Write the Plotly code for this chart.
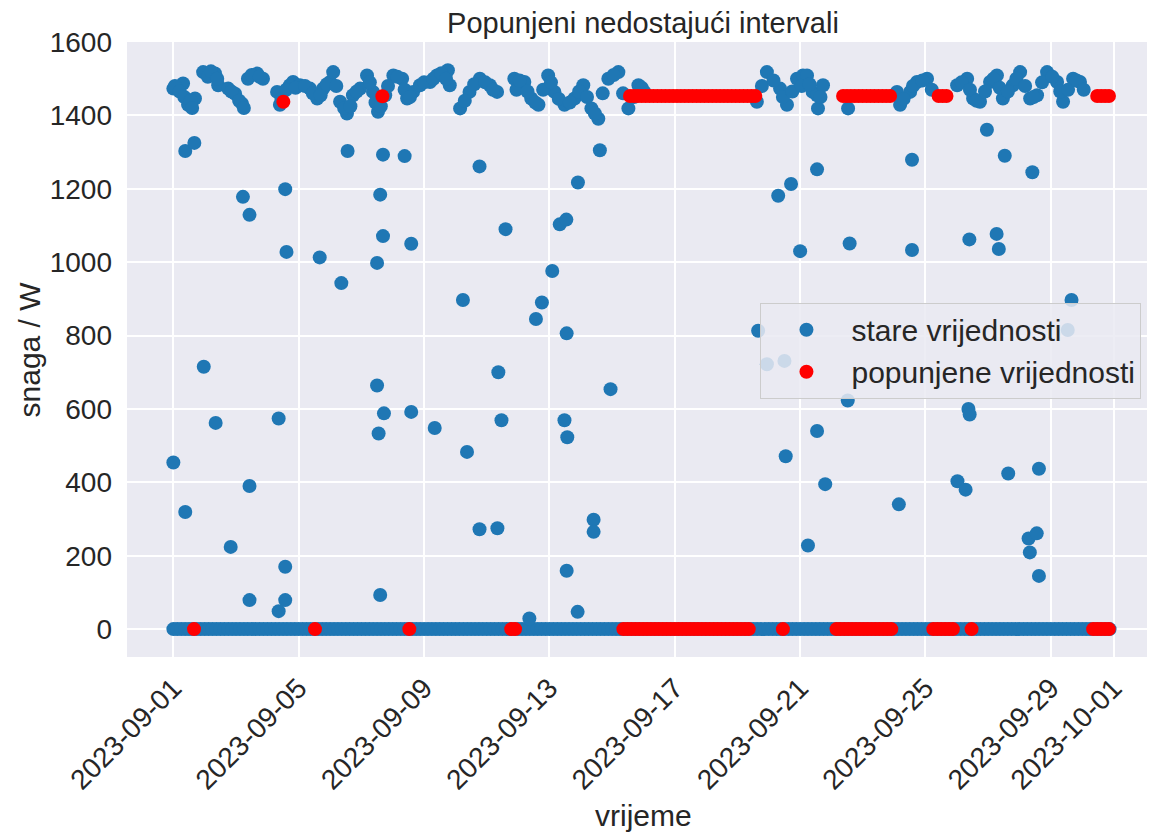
import pandas as pd
import plotly.graph_objects as go

POCETAK = pd.Timestamp("2023-09-01")

# stare vrijednosti - dnevni vrh (dan od 1.9., snaga W)
dan_d = [0.0, 0.31, 0.47, 0.69, 0.95, 1.33, 1.43, 1.75, 1.97, 2.19, 2.38, 2.67, 2.86,
         3.31, 3.40, 3.72, 3.82, 4.04, 4.36, 4.59, 4.78, 5.00, 5.10, 5.32, 5.54, 5.73,
         5.96, 6.18, 6.37, 6.53, 6.76, 7.02, 7.30, 7.46, 7.65, 7.87, 8.19, 8.41, 8.76,
         8.82, 9.15, 9.45, 9.78, 10.10, 10.33, 10.88, 11.20, 11.42, 11.65, 11.96, 12.16,
         12.48, 12.80, 13.08, 13.34, 13.56, 13.88, 14.20, 14.52, 14.84, 15.03,
         18.62, 18.94, 19.36, 19.58, 19.90, 20.09, 20.22, 20.40, 20.54, 20.57, 20.73,
         21.53, 23.09, 23.19, 23.51, 23.73, 24.05, 25.01, 25.33, 25.52, 25.74, 26.06,
         26.28, 26.47, 26.79, 27.02, 27.34, 27.56, 27.88, 28.20, 28.39, 28.71, 28.93,
         0.05, 0.20, 0.35, 0.55, 0.60, 1.10, 1.20, 1.40, 1.85, 2.10, 2.25, 2.50, 2.75,
         3.45, 3.60, 3.90, 4.20, 4.45, 4.70, 4.90, 5.20, 5.45, 5.65, 5.85, 6.27, 6.45,
         6.62, 6.85, 7.15, 7.38, 7.55, 8.00, 8.30, 8.55, 8.70, 9.30, 9.60, 9.95, 10.20,
         10.95, 11.05, 11.30, 11.55, 11.80, 12.05, 12.30, 12.65, 12.95, 13.20, 13.45,
         13.70, 14.05, 14.35, 14.70, 14.95, 18.78, 19.15, 19.45, 19.75, 20.05, 20.30,
         20.65, 23.30, 23.60, 23.90, 24.20, 25.15, 25.42, 25.63, 25.90, 26.17, 26.37,
         26.63, 26.90, 27.18, 27.45, 27.72, 28.05, 28.30, 28.55, 28.82, 29.05]
dan_w = [1473, 1487, 1429, 1446, 1518, 1514, 1482, 1473, 1459, 1432, 1500, 1514, 1500,
         1464, 1429, 1482, 1491, 1482, 1473, 1446, 1473, 1491, 1518, 1437, 1405, 1455,
         1473, 1509, 1464, 1410, 1455, 1509, 1500, 1446, 1464, 1482, 1491, 1509, 1523,
         1482, 1419, 1464, 1500, 1482, 1464, 1500, 1491, 1446, 1429, 1509, 1464,
         1429, 1446, 1482, 1419, 1391, 1500, 1518, 1419, 1482, 1464,
         1437, 1518, 1473, 1429, 1500, 1509, 1509, 1464, 1455, 1419, 1482,
         1419, 1464, 1429, 1464, 1491, 1500, 1482, 1500, 1446, 1437, 1491,
         1509, 1446, 1482, 1518, 1446, 1455, 1518, 1491, 1437, 1500, 1491,
         1480, 1465, 1450, 1440, 1420, 1505, 1520, 1500, 1465, 1440, 1420, 1510, 1505,
         1445, 1470, 1475, 1480, 1460, 1455, 1485, 1480, 1420, 1425, 1465, 1490, 1435,
         1425, 1480, 1505, 1470, 1450, 1490, 1500, 1515, 1500, 1440, 1485, 1490, 1470,
         1470, 1495, 1465, 1435, 1470, 1490, 1445, 1435, 1465, 1450, 1405,
         1460, 1510, 1460, 1450, 1475, 1480, 1495, 1450, 1465, 1480, 1485,
         1450, 1445, 1480, 1495, 1470, 1490, 1470, 1440, 1465, 1500, 1475,
         1465, 1500, 1480, 1450, 1490, 1505, 1465, 1470, 1495, 1470]

# stare vrijednosti - prijelazi (jutro / vecer)
prijelaz_d = [0.38, 0.67, 5.56, 6.69, 7.38, 9.77, 13.61, 12.91, 2.22, 3.57, 6.60, 2.43,
              10.60, 12.33, 12.54, 6.69, 7.59, 3.61, 4.67, 6.50, 5.36, 12.09, 9.24, 11.76,
              11.57, 12.55, 0.97, 10.37, 6.50, 13.95, 1.35, 3.36, 6.72, 7.59, 6.55, 8.34,
              10.47, 12.48, 12.57, 9.37, 0.00, 2.43, 0.38, 1.83, 9.77, 10.34, 13.41, 13.41,
              3.57, 12.55, 2.43, 3.57, 3.36, 6.60, 11.36, 12.90,
              25.96, 26.53, 23.57, 27.41, 20.54, 19.71, 19.30, 21.58, 20.00, 23.57, 25.40,
              26.27, 26.34, 28.66, 28.54, 18.66, 18.94, 19.50, 21.52, 25.37, 25.41, 20.54,
              19.54, 20.80, 23.15, 25.02, 25.28, 26.64, 27.62, 27.29, 27.55, 27.33, 27.62,
              20.25]
prijelaz_w = [1303, 1325, 1303, 1293, 1289, 1261, 1305, 1217, 1178, 1199, 1184, 1129,
              1090, 1103, 1116, 1071, 1050, 1028, 1013, 998, 943, 976, 897, 890,
              845, 806, 715, 700, 664, 654, 562, 574, 588, 592, 533, 548,
              569, 569, 523, 483, 454, 390, 319, 224, 272, 275, 298, 265,
              170, 159, 79, 79, 49, 93, 29, 47,
              1361, 1290, 1279, 1245, 1253, 1213, 1181, 1051, 1030, 1033, 1062,
              1077, 1036, 897, 815, 813, 722, 731, 623, 600, 585, 540,
              471, 395, 340, 403, 380, 424, 437, 247, 261, 209, 145,
              228]

# stare vrijednosti - nocna nula (od, do)
nula_od, nula_do = 0.0, 29.9

# popunjene vrijednosti - intervali (od, do, snaga)
pop_nula_od = [0.66, 4.52, 7.53, 10.78, 14.36, 19.45, 21.16, 24.25, 25.47, 29.35]
pop_nula_do = [0.66, 4.52, 7.53, 10.88, 18.35, 19.45, 22.87, 24.90, 25.47, 29.90]
pop_dan_od = [3.51, 6.67, 14.57, 21.37, 24.42, 29.48]
pop_dan_do = [3.51, 6.67, 18.57, 22.82, 24.64, 29.82]
pop_dan_w = [1437, 1452, 1453, 1453, 1453, 1453]

KORAK = 0.125  # razmak mjerenja u danima (3 h)

tick_dani = ["2023-09-01", "2023-09-05", "2023-09-09", "2023-09-13", "2023-09-17",
             "2023-09-21", "2023-09-25", "2023-09-29", "2023-10-01"]


def u_vrijeme(dani):
    return [POCETAK + pd.Timedelta(days=d) for d in dani]


def niz(od, do, w):
    n = int(round((do - od) / KORAK)) + 1
    d = [od + i * KORAK for i in range(n)]
    return d, [w] * n


st_d, st_w = niz(nula_od, nula_do, 0)
st_d += dan_d + prijelaz_d
st_w += dan_w + prijelaz_w

pp_d, pp_w = [], []
for a, b in zip(pop_nula_od, pop_nula_do):
    d, w = niz(a, b, 0)
    pp_d += d
    pp_w += w
for a, b, v in zip(pop_dan_od, pop_dan_do, pop_dan_w):
    d, w = niz(a, b, v)
    pp_d += d
    pp_w += w

FONT = "Liberation Sans, Arial, sans-serif"
TXT = "#262626"

fig = go.Figure()
fig.add_trace(go.Scatter(x=u_vrijeme(st_d), y=st_w, mode="markers", name="stare vrijednosti",
                         marker=dict(color="#1f77b4", size=14, line=dict(width=0))))
fig.add_trace(go.Scatter(x=u_vrijeme(pp_d), y=pp_w, mode="markers", name="popunjene vrijednosti",
                         marker=dict(color="#ff0000", size=14, line=dict(width=0))))

# the page body has an 8 px margin, so the figure is shifted by 8 px
fig.update_layout(
    width=1151, height=824,
    margin=dict(l=119, r=0, t=34, b=175),
    paper_bgcolor="white", plot_bgcolor="#eaeaf2",
    font=dict(family=FONT, color=TXT, size=28),
    title=dict(text="Popunjeni nedostajući intervali", x=0.5517, xanchor="center",
               y=0.982, yanchor="middle", font=dict(size=29, color=TXT)),
    showlegend=True,
    legend=dict(x=0.6138, y=0.576, xanchor="left", yanchor="top",
                bgcolor="rgba(234,234,242,0.85)", bordercolor="#cccccc", borderwidth=1,
                font=dict(size=30, color=TXT), itemwidth=80, tracegroupgap=0),
    annotations=[
        dict(text="vrijeme", x=0.5, y=-0.257, xref="paper", yref="paper",
             showarrow=False, xanchor="center", yanchor="middle", font=dict(size=30, color=TXT)),
        dict(text="snaga / W", x=-0.094, y=0.5, xref="paper", yref="paper", textangle=-90,
             showarrow=False, xanchor="center", yanchor="middle", font=dict(size=30, color=TXT)),
    ],
)
fig.update_xaxes(type="date", range=["2023-08-30 12:30", "2023-10-02 10:50"],
                 tickvals=tick_dani, ticktext=tick_dani, tickangle=-45,
                 showgrid=True, gridcolor="white", gridwidth=1.6, zeroline=False,
                 showline=False, ticks="", ticklabelstandoff=8, tickfont=dict(size=28))
fig.update_yaxes(range=[-76, 1600], tickvals=list(range(0, 1601, 200)),
                 showgrid=True, gridcolor="white", gridwidth=1.6, zeroline=False,
                 showline=False, ticks="", ticklabelstandoff=14, tickfont=dict(size=28))

fig.write_html("out.html")
